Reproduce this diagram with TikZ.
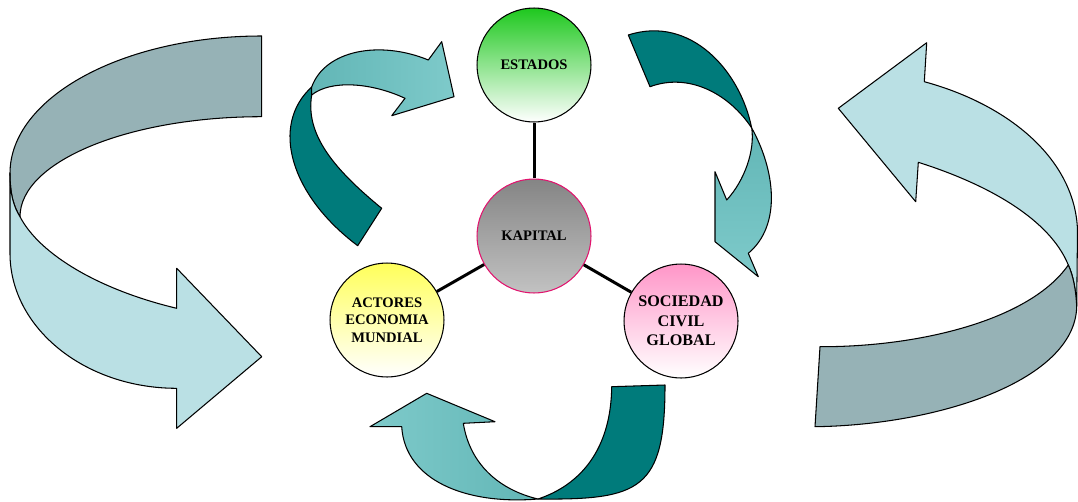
\documentclass[tikz,border=0pt]{standalone}
\usepackage{fontspec}
\setmainfont{Liberation Serif}
\usepackage{tikz}

\definecolor{TealDark}{RGB}{0,123,123}
\definecolor{TealLight}{RGB}{126,202,202}
\definecolor{TealMid}{RGB}{98,182,182}
\definecolor{SteelGray}{RGB}{150,178,182}
\definecolor{IceBlue}{RGB}{186,224,228}
\definecolor{EstadosGreen}{RGB}{30,200,30}
\definecolor{ActoresYellow}{RGB}{255,255,90}
\definecolor{SociedadPink}{RGB}{255,150,200}
\definecolor{KapitalRim}{RGB}{225,20,110}

\begin{document}
\begin{tikzpicture}[x=0.02cm, y=-0.02cm,
        ball/.style={circle, draw=black, line width=0.6pt, minimum size=2.28cm, inner sep=0pt, align=center, font=\fontsize{8.3}{10.1}\selectfont\bfseries},
        spoke/.style={line width=1.7pt},
        ribbon/.style={draw=black, line width=0.6pt, line join=round}]
        \useasboundingbox (0,0) rectangle (1078,501);

        % big outer arrows
        \filldraw[ribbon, fill=SteelGray] (261.7,36) .. controls (122.8,36) and (10,97.5) .. (10,173.3) .. controls (10,195) and (14,207) .. (20,216.7) .. controls (20,161.5) and (128.3,116.7) .. (261.7,116.7) -- cycle;
        \filldraw[ribbon, fill=IceBlue] (10,173.3) -- (10,253.3) .. controls (10,327.8) and (84.7,388.3) .. (176.7,388.3) -- (176.7,428.3) -- (261.7,356.7) -- (176.7,268.3) -- (176.7,308.3) .. controls (100,290) and (40,255) .. (20,216.7) .. controls (14,207) and (10,195) .. (10,173.3) -- cycle;

        \filldraw[ribbon, fill=IceBlue] (926.7,42.7) -- (924.3,81.7) .. controls (1010,105) and (1075,160) .. (1077.5,230) -- (1076.7,306.7) .. controls (1076,290) and (1073,275) .. (1068.3,265) .. controls (1050,220) and (990,185) .. (918.3,162.3) -- (915.7,201.7) -- (838.3,108.3) -- cycle;
        \filldraw[ribbon, fill=SteelGray] (1068.3,265) .. controls (1073,275) and (1076,290) .. (1076.7,306.7) .. controls (1075,380) and (940,425) .. (815,426.7) -- (820,346.7) .. controls (920,347) and (1030,320) .. (1068.3,265) -- cycle;

        % inner arrows
        \filldraw[ribbon, fill=TealDark] (357.7,245.7) .. controls (290,195) and (270,125) .. (311.7,87) -- (311.7,95) .. controls (305,135) and (335,170) .. (381.7,208.3) -- cycle;
        \shadedraw[ribbon, left color=TealMid, right color=TealLight] (311.7,87) .. controls (325,50) and (380,40) .. (428.3,60) -- (441.7,41.7) -- (454,96.7) -- (391.7,115.7) -- (405,98.3) .. controls (370,82) and (330,80) .. (311.7,95) -- cycle;

        \filldraw[ribbon, fill=TealDark] (628.3,35) .. controls (690,15) and (740,70) .. (751.7,128) .. controls (730,95) and (690,72) .. (650,86.7) -- cycle;
        \shadedraw[ribbon, top color=TealMid, bottom color=TealLight] (751.7,128) .. controls (775,170) and (782,225) .. (748.3,253.3) -- (758.3,276.7) -- (715,241.7) -- (715,171.7) -- (726.7,200) .. controls (745,180) and (755,150) .. (751.7,128) -- cycle;

        \filldraw[ribbon, fill=TealDark] (611.7,386.7) -- (665,385) .. controls (665,490) and (640,500) .. (538,499) .. controls (580,485) and (611,450) .. (611.7,386.7) -- cycle;
        \shadedraw[ribbon, left color=TealLight, right color=TealMid] (538,499) .. controls (465,505) and (405,480) .. (401.7,426.7) -- (370,426.7) -- (426.7,393.3) -- (495,421.7) -- (463.3,423.3) .. controls (470,465) and (500,490) .. (538,499) -- cycle;

        % circles
        \node (estados) at (534,65) [ball, top color=EstadosGreen, bottom color=white] {ESTADOS};
        \node (kapital) at (534,236) [ball, draw=KapitalRim, top color=black!48, bottom color=black!24] {KAPITAL};
        \node (actores) at (387,320) [ball, top color=ActoresYellow, bottom color=white] {ACTORES\\ECONOMIA\\MUNDIAL};
        \node (sociedad) at (681,321) [ball, top color=SociedadPink, bottom color=white, font=\fontsize{9.2}{11}\selectfont\bfseries] {SOCIEDAD\\CIVIL\\GLOBAL};

        \draw[spoke] (estados) -- (kapital);
        \draw[spoke] (kapital) -- (actores);
        \draw[spoke] (kapital) -- (sociedad);
    \end{tikzpicture}
\end{document}
